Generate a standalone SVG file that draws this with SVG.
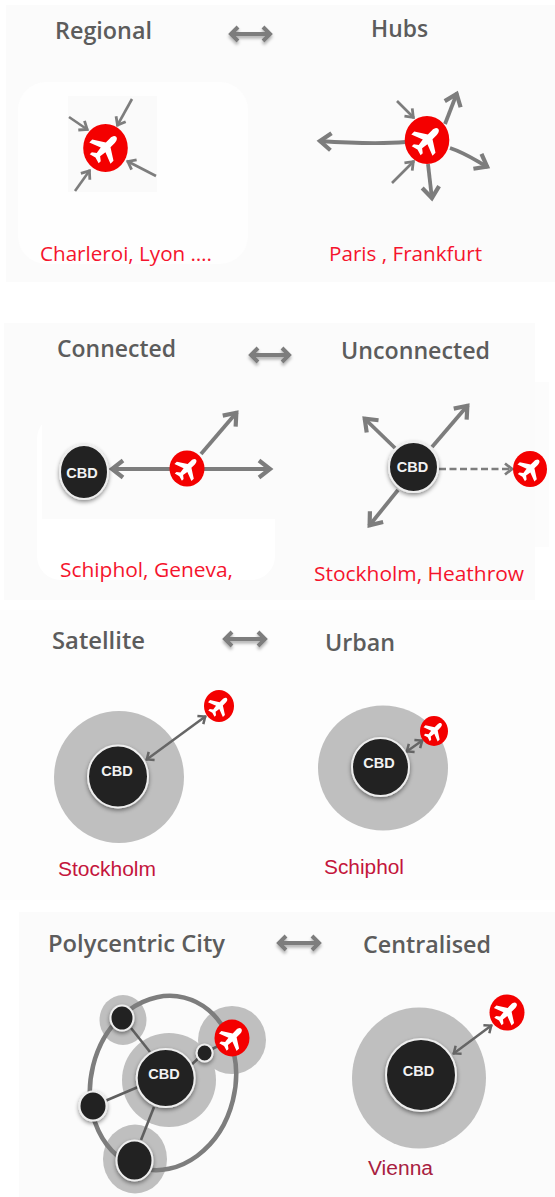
<svg xmlns="http://www.w3.org/2000/svg" width="555" height="1197" viewBox="0 0 555 1197">
<style>
marker{overflow:visible}
.title{font:600 22.5px "Open Sans","Liberation Sans",sans-serif;fill:#5c5c5c}
.place{font:400 20px "Open Sans","Liberation Sans",sans-serif;fill:#f5142d}
.place2{font:400 20px "Liberation Sans",Arial,sans-serif;fill:#c4153c}
.cbd{font:700 14.5px "Liberation Sans",Arial,sans-serif;fill:#f2f2f2;text-anchor:middle}
.red{fill:#f40000}
.plane{fill:#fff}
.halo{fill:#bfbfbf}
.blk{fill:#222;stroke:#eee;stroke-width:2;filter:url(#sh)}
.big,.mid,.thin,.swap,.dash{fill:none;stroke:#7d7d7d}
.big{stroke-width:3.8;marker-end:url(#hl)}
.mid{stroke-width:2.6;marker-end:url(#hm)}
.thin{stroke-width:2.5;stroke:#666;marker-start:url(#hs);marker-end:url(#hs)}
.swap{stroke-width:4;marker-start:url(#hd);marker-end:url(#hd);filter:url(#sh2)}
.dash{stroke-width:2.6;stroke-dasharray:7 3.5;marker-end:url(#hm)}
.spoke{stroke:#5f5f5f;stroke-width:2.6;fill:none}
</style>
<defs>
<filter id="sh" x="-30%" y="-30%" width="160%" height="170%"><feDropShadow dx="0" dy="2" stdDeviation="2" flood-color="#000" flood-opacity=".45"/></filter>
<filter id="sh2" filterUnits="userSpaceOnUse" x="0" y="0" width="555" height="1197"><feDropShadow dx="0" dy="2.5" stdDeviation="1.5" flood-color="#000" flood-opacity=".3"/></filter>
<marker id="hl" markerUnits="userSpaceOnUse" markerWidth="20" markerHeight="20" refX="0" refY="0" orient="auto"><path d="M-12,-8.5 L-1,0 L-12,8.5" fill="none" stroke="#7d7d7d" stroke-width="4.2"/></marker>
<marker id="hm" markerUnits="userSpaceOnUse" markerWidth="14" markerHeight="14" refX="0" refY="0" orient="auto"><path d="M-8,-5.5 L-1,0 L-8,5.5" fill="none" stroke="#7d7d7d" stroke-width="2.8"/></marker>
<marker id="hs" markerUnits="userSpaceOnUse" markerWidth="14" markerHeight="14" refX="0" refY="0" orient="auto-start-reverse"><path d="M-7,-5 L-1,0 L-7,5" fill="none" stroke="#666" stroke-width="2.5"/></marker>
<marker id="hd" markerUnits="userSpaceOnUse" markerWidth="14" markerHeight="18" refX="0" refY="0" orient="auto-start-reverse"><path d="M-8,-7 L-1,0 L-8,7" fill="none" stroke="#7d7d7d" stroke-width="4"/></marker>
<path id="pl" d="M0,-1.05 C.16,-1.05 .22,-.85 .22,-.7 L.22,-.3 L1,.2 L1,.48 L.22,.18 L.16,.62 L.42,.82 L.42,1.02 L0,.9 L-.42,1.02 L-.42,.82 L-.16,.62 L-.22,.18 L-1,.48 L-1,.2 L-.22,-.3 L-.22,-.7 C-.22,-.85 -.16,-1.05 0,-1.05Z"/>
</defs>

<g id="panels">
<rect width="555" height="1197" fill="#fff"/>
<rect x="6" y="5" width="549" height="277" fill="#fbfbfb"/>
<rect x="18" y="82" width="230" height="182" rx="28" fill="#fefefe"/>
<rect x="68" y="96" width="89" height="96" fill="#fafafa"/>
<rect x="4" y="323" width="531" height="277" fill="#fbfbfb"/>
<rect x="535" y="382" width="14" height="165" fill="#fcfcfc"/>
<rect x="37" y="415" width="238" height="165" rx="24" fill="#fff"/>
<rect x="42" y="400" width="233" height="119" fill="#fbfbfb"/>
<rect x="0" y="610" width="555" height="290" fill="#fdfdfd"/>
<rect x="19" y="912" width="536" height="285" fill="#fbfbfb"/>
</g>

<g id="halos">
<ellipse class="halo" cx="119" cy="777" rx="65" ry="66"/>
<ellipse class="halo" cx="383" cy="768" rx="65" ry="62.5"/>
<ellipse class="halo" cx="123" cy="1020" rx="23.5" ry="25"/>
<ellipse class="halo" cx="169" cy="1080" rx="47" ry="47"/>
<ellipse class="halo" cx="232" cy="1040" rx="34" ry="34"/>
<ellipse class="halo" cx="135" cy="1159" rx="32" ry="34.5"/>
<ellipse class="halo" cx="419" cy="1078" rx="67" ry="70.5"/>
</g>

<g id="connectors">
<path class="swap" d="M230,34H271"/>
<path class="swap" d="M250,355H290"/>
<path class="swap" d="M224,639H266"/>
<path class="swap" d="M278,943H320"/>
<path class="mid" d="M69,117L88,130"/>
<path class="mid" d="M132,99L117,126"/>
<path class="mid" d="M156,176L127,161"/>
<path class="mid" d="M75,191L90,170"/>
<path class="mid" d="M397,101L414,118"/>
<path class="mid" d="M392,183L414,161"/>
<path class="big" d="M406,142C380,144 350,143 319,141"/>
<path class="big" d="M445,124L457,93"/>
<path class="big" d="M450,148C465,153 475,160 488,167"/>
<path class="big" d="M428,164L432,199"/>
<path class="big" d="M170,469H111"/>
<path class="big" d="M204,469H271"/>
<path class="big" d="M201,454L237,412"/>
<path class="big" d="M395,448L364,418"/>
<path class="big" d="M432,447L468,405"/>
<path class="big" d="M398,490L369,526"/>
<path class="dash" d="M439,469H513"/>
<path class="thin" d="M146,760L206,716"/>
<path class="thin" d="M406,752L423,740"/>
<path class="thin" d="M453,1054L492,1025"/>
<ellipse cx="163" cy="1083" rx="72" ry="88" transform="rotate(14 163 1083)" fill="none" stroke="#7d7d7d" stroke-width="4.5"/>
<path class="spoke" d="M131,1028L150,1052"/>
<path class="spoke" d="M105,1101L138,1087"/>
<path class="spoke" d="M154,1107L141,1140"/>
<path class="spoke" d="M190,1066L204,1053L222,1044" stroke-width="4"/>
</g>

<g id="regional-airport"><ellipse class="red" cx="105.5" cy="148" rx="22.3" ry="24"/><use href="#pl" class="plane" transform="translate(105 148) rotate(45) scale(15)"/></g>
<g id="hub-airport"><ellipse class="red" cx="427" cy="140" rx="22.3" ry="24"/><use href="#pl" class="plane" transform="translate(427 140) rotate(45) scale(15)"/></g>
<g id="connected-cbd"><ellipse class="blk" cx="84" cy="472" rx="24" ry="27"/><text class="cbd" x="82" y="478">CBD</text></g>
<g id="connected-airport"><ellipse class="red" cx="187" cy="468.5" rx="17.5" ry="18"/><use href="#pl" class="plane" transform="translate(187 468.5) rotate(45) scale(12)"/></g>
<g id="unconnected-cbd"><ellipse class="blk" cx="413.5" cy="467" rx="24.5" ry="25"/><text class="cbd" x="412.5" y="472">CBD</text></g>
<g id="unconnected-airport"><ellipse class="red" cx="530" cy="469" rx="17" ry="18"/><use href="#pl" class="plane" transform="translate(530 469) rotate(45) scale(12)"/></g>
<g id="satellite-cbd"><ellipse class="blk" cx="118" cy="776.5" rx="30" ry="31"/><text class="cbd" x="117" y="776">CBD</text></g>
<g id="satellite-airport"><ellipse class="red" cx="219" cy="706" rx="15" ry="16"/><use href="#pl" class="plane" transform="translate(219 706) rotate(45) scale(10.5)"/></g>
<g id="urban-cbd"><ellipse class="blk" cx="380.5" cy="767" rx="28.5" ry="29"/><text class="cbd" x="379" y="768">CBD</text></g>
<g id="urban-airport"><ellipse class="red" cx="434" cy="731" rx="14" ry="15"/><use href="#pl" class="plane" transform="translate(434 731) rotate(45) scale(10)"/></g>
<g id="poly-node-top"><ellipse class="blk" cx="122" cy="1018" rx="11.5" ry="12.5"/></g>
<g id="poly-node-small"><ellipse class="blk" cx="204.6" cy="1053" rx="8" ry="8.5"/></g>
<g id="poly-node-left"><ellipse class="blk" cx="93" cy="1106" rx="13.5" ry="14.5"/></g>
<g id="poly-node-bottom"><ellipse class="blk" cx="134.5" cy="1160.5" rx="18" ry="20"/></g>
<g id="poly-cbd"><ellipse class="blk" cx="165.7" cy="1078" rx="29" ry="29"/><text class="cbd" x="164" y="1079">CBD</text></g>
<g id="poly-airport"><ellipse class="red" cx="232" cy="1038" rx="17.5" ry="18.5"/><use href="#pl" class="plane" transform="translate(232 1038) rotate(45) scale(12.5)"/></g>
<g id="central-cbd"><ellipse class="blk" cx="421" cy="1075" rx="35" ry="36"/><text class="cbd" x="418.5" y="1076">CBD</text></g>
<g id="central-airport"><ellipse class="red" cx="507" cy="1012.5" rx="17.5" ry="18"/><use href="#pl" class="plane" transform="translate(507 1012.5) rotate(45) scale(12.5)"/></g>

<g id="labels">
<text class="title" x="55" y="39" textLength="97" lengthAdjust="spacingAndGlyphs">Regional</text>
<text class="title" x="371" y="37" textLength="57" lengthAdjust="spacingAndGlyphs">Hubs</text>
<text class="title" x="57" y="357" textLength="119" lengthAdjust="spacingAndGlyphs">Connected</text>
<text class="title" x="341" y="359" textLength="149" lengthAdjust="spacingAndGlyphs">Unconnected</text>
<text class="title" x="52" y="649" textLength="93" lengthAdjust="spacingAndGlyphs">Satellite</text>
<text class="title" x="325" y="651" textLength="70" lengthAdjust="spacingAndGlyphs">Urban</text>
<text class="title" x="48" y="952" textLength="177" lengthAdjust="spacingAndGlyphs">Polycentric City</text>
<text class="title" x="363" y="953" textLength="128" lengthAdjust="spacingAndGlyphs">Centralised</text>
<text class="place" x="40" y="261" textLength="172" lengthAdjust="spacingAndGlyphs">Charleroi, Lyon ….</text>
<text class="place" x="329" y="261" textLength="153" lengthAdjust="spacingAndGlyphs">Paris , Frankfurt</text>
<text class="place" x="60" y="577" textLength="173" lengthAdjust="spacingAndGlyphs">Schiphol, Geneva,</text>
<text class="place" x="314" y="581" textLength="210" lengthAdjust="spacingAndGlyphs">Stockholm, Heathrow</text>
<text class="place2" x="58" y="876" textLength="98" lengthAdjust="spacingAndGlyphs">Stockholm</text>
<text class="place2" x="324" y="874" textLength="80" lengthAdjust="spacingAndGlyphs">Schiphol</text>
<text class="place2" x="368" y="1175" textLength="65" lengthAdjust="spacingAndGlyphs" style="fill:#a8203f">Vienna</text>
</g>
</svg>
